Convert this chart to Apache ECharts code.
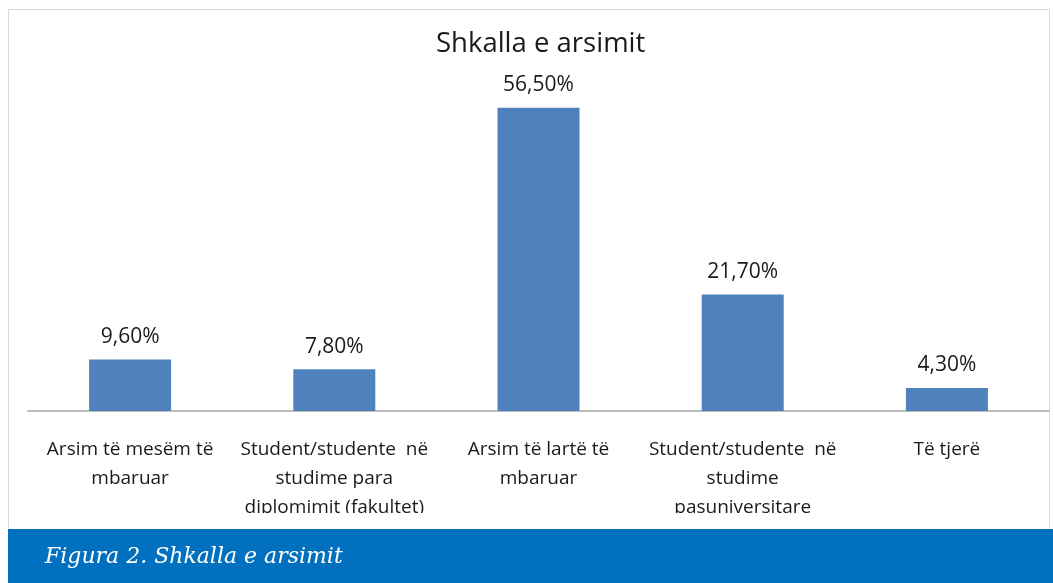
<!DOCTYPE html>
<html>
<head>
<meta charset="utf-8">
<script src="https://cdn.jsdelivr.net/npm/echarts@6/dist/echarts.min.js"></script>
<style>
  html, body { margin: 0; padding: 0; background: #fff; }
  #chart { width: 1053px; height: 583px; }
</style>
</head>
<body>
<div id="chart"></div>
<script>
var categories = [
    'Arsim të mesëm të\nmbaruar',
    'Student/studente  në\nstudime para\ndiplomimit (fakultet)',
    'Arsim të lartë të\nmbaruar',
    'Student/studente  në\nstudime\npasuniversitare',
    'Të tjerë'
];
var values = [9.6, 7.8, 56.5, 21.7, 4.3];
var chartTitle = 'Shkalla e arsimit';
var caption = 'Figura 2. Shkalla e arsimit';

var chart = echarts.init(document.getElementById('chart'));
var option = {
    animation: false,
    title: {
        text: chartTitle,
        left: 431,
        top: 25,
        textStyle: {
            fontFamily: 'Open Sans',
            fontWeight: 'normal',
            fontSize: 27.5,
            color: '#1a1a1a'
        }
    },
    grid: { left: 28, right: 4, top: 89, bottom: 172 },
    xAxis: {
        type: 'category',
        data: categories,
        axisLine: { lineStyle: { color: '#bdbdbd', width: 2 } },
        axisTick: { show: false },
        axisLabel: {
            interval: 0,
            margin: 24,
            fontFamily: 'Open Sans',
            fontSize: 19,
            lineHeight: 29,
            color: '#1a1a1a'
        }
    },
    yAxis: {
        type: 'value',
        min: 0,
        max: 60,
        show: false
    },
    series: [{
        type: 'bar',
        data: values,
        barWidth: 82,
        itemStyle: { color: '#4f81bd' },
        label: {
            show: true,
            position: 'top',
            distance: 12,
            fontFamily: 'Open Sans',
            fontSize: 21,
            color: '#1a1a1a',
            formatter: function (p) {
                return p.value.toFixed(2).replace('.', ',') + '%';
            }
        }
    }],
    graphic: [
        {   // chart frame
            type: 'rect',
            z: 0,
            shape: { x: 8.5, y: 9.5, width: 1041, height: 530 },
            style: { fill: 'none', stroke: '#d9d9d9', lineWidth: 1 }
        },
        {   // plot area clips the last label line
            type: 'rect',
            z: 99,
            shape: { x: 9, y: 513, width: 1040, height: 16 },
            style: { fill: '#ffffff' }
        },
        {   // caption banner
            type: 'rect',
            z: 100,
            shape: { x: 8, y: 529, width: 1045, height: 54 },
            style: { fill: '#0070bf' }
        },
        {
            type: 'text',
            z: 101,
            left: 45,
            top: 546,
            style: {
                text: caption,
                fill: '#ffffff',
                fontFamily: 'DejaVu Serif',
                fontStyle: 'italic',
                fontSize: 22
            }
        }
    ]
};
chart.setOption(option);
</script>
</body>
</html>
